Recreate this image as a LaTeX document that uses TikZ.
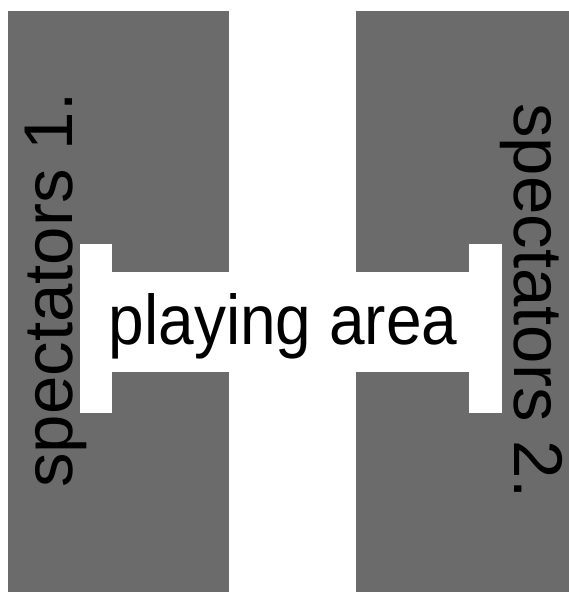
\documentclass[tikz,border=0pt]{standalone}
\usepackage{fontspec}
\setmainfont{Liberation Sans}
\definecolor{stand}{HTML}{6B6B6B}
\begin{document}
\begin{tikzpicture}[x=1pt,y=-1pt,
  standblock/.style={fill=stand,draw=none},
  fieldblock/.style={fill=white,draw=none},
  bigtext/.style={inner sep=0pt,anchor=base,text=black}]
\useasboundingbox (0,0) rectangle (569,592);
\fill[white] (0,0) rectangle (569,592);
% spectator stands
\path[standblock] (8,11) rectangle (229,592);
\path[standblock] (356,11) rectangle (569,592);
% playing area
\path[fieldblock] (80,244) rectangle (112,413);
\path[fieldblock] (469,244) rectangle (502,413);
\path[fieldblock] (111,272) rectangle (470,372);
% labels
\node[bigtext,font=\fontsize{64}{70}\selectfont] (play) at (283,344) {\scalebox{1}[1.1]{playing area}};
\node[bigtext,rotate=90,font=\fontsize{69}{75}\selectfont] (spec1) at (72,290) {spectators 1.};
\node[bigtext,rotate=-90,font=\fontsize{69}{75}\selectfont] (spec2) at (514,301) {spectators 2.};
\end{tikzpicture}
\end{document}
